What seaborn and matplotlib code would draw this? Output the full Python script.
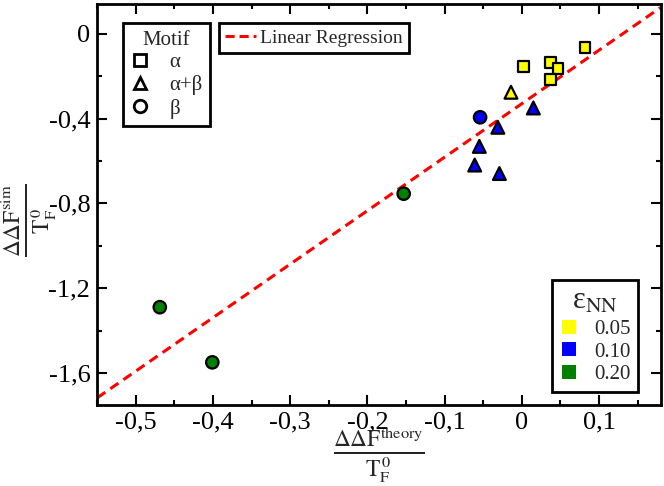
import numpy as np
import pandas as pd
import matplotlib
matplotlib.use("Agg")
import matplotlib.pyplot as plt
from matplotlib.lines import Line2D
from matplotlib.ticker import FixedLocator, FuncFormatter
import seaborn as sns

# ---- data ----
x_theory = [0.002, 0.037, 0.047, 0.037, 0.082,
            -0.014,
            0.015, -0.031, -0.055, -0.061, -0.029,
            -0.054,
            -0.153, -0.469, -0.401]
y_sim = [-0.153, -0.134, -0.165, -0.216, -0.065,
         -0.276,
         -0.350, -0.441, -0.531, -0.619, -0.659,
         -0.394,
         -0.754, -1.289, -1.549]
eps_nn = ["0.05"] * 5 + ["0.05"] + ["0.10"] * 5 + ["0.10"] + ["0.20"] * 3
motif = ["α"] * 5 + ["α+β"] + ["α+β"] * 5 + ["β"] + ["β"] * 3

reg_slope = 2.52
reg_intercept = -0.33

eps_levels = ["0.05", "0.10", "0.20"]
motif_levels = ["α", "α+β", "β"]
x_ticks = [-0.5, -0.4, -0.3, -0.2, -0.1, 0.0, 0.1]
y_ticks = [0.0, -0.4, -0.8, -1.2, -1.6]

# ---- style ----
sns.set_style("ticks")
plt.rcParams["font.family"] = ["Liberation Serif", "DejaVu Serif"]
plt.rcParams["mathtext.fontset"] = "stix"
plt.rcParams["axes.unicode_minus"] = False

palette = {"0.05": "#FFFF00", "0.10": "#0000FF", "0.20": "#008000"}
markers = {"α": "s", "α+β": "^", "β": "o"}
sizes = {"α": 60, "α+β": 85, "β": 80}

df = pd.DataFrame({"x": x_theory, "y": y_sim, "eps": eps_nn, "motif": motif})

fig = plt.figure(figsize=(6.64, 4.86), dpi=100)
ax = fig.add_axes([97.3 / 664, 1 - 405 / 486, (660.7 - 97.3) / 664, (405 - 4) / 486])

xlim = (-0.55, 0.18)
ylim = (-1.75, 0.14)

# regression line
xl = np.array(xlim)
ax.plot(xl, reg_slope * xl + reg_intercept, color="red", lw=2.2,
        dashes=(3.2, 2.0), zorder=1)

sns.scatterplot(data=df, x="x", y="y", hue="eps", style="motif", size="motif",
                palette=palette, markers=markers, sizes=sizes,
                hue_order=eps_levels, style_order=motif_levels, size_order=motif_levels,
                edgecolor="black", linewidth=1.6, legend=False, ax=ax, zorder=3)

ax.set_xlim(*xlim)
ax.set_ylim(*ylim)

fmt = FuncFormatter(lambda v, p: ("%g" % round(v, 2)).replace(".", ","))
ax.xaxis.set_major_locator(FixedLocator(x_ticks))
ax.yaxis.set_major_locator(FixedLocator(y_ticks))
ax.xaxis.set_minor_locator(FixedLocator(np.arange(-0.55, 0.18, 0.05)))
ax.yaxis.set_minor_locator(FixedLocator(np.arange(-1.8, 0.15, 0.2)))
ax.xaxis.set_major_formatter(fmt)
ax.yaxis.set_major_formatter(fmt)
ax.tick_params(which="both", direction="in", top=True, right=True, width=1.5,
               labelsize=19, color="black", labelcolor="black")
ax.tick_params(which="major", length=7.5, pad=5)
ax.tick_params(which="minor", length=3.5)
for s in ax.spines.values():
    s.set_linewidth(2.0)
    s.set_color("black")

ax.set_xlabel(r"$\frac{\Delta\Delta\mathrm{F}^{\mathrm{theory}}}{\mathrm{T}_{\mathrm{F}}^{\,0}}$",
              fontsize=24)
ax.set_ylabel(r"$\frac{\Delta\Delta\mathrm{F}^{\mathrm{sim}}}{\mathrm{T}_{\mathrm{F}}^{\,0}}$",
              fontsize=24)
ax.xaxis.label.set_va("center")
ax.yaxis.label.set_va("center")
ax.xaxis.set_label_coords(0.5, (405 - 455) / 401)
ax.yaxis.set_label_coords((29 - 97.3) / 563.4, (405 - 220) / 401)

# ---- legends ----
def style_frame(leg):
    fr = leg.get_frame()
    fr.set_edgecolor("black")
    fr.set_linewidth(2.0)
    fr.set_facecolor("white")
    fr.set_alpha(1)

motif_handles = [Line2D([], [], ls="none", marker=markers[m], markersize=ms,
                        markerfacecolor="white", markeredgecolor="black", markeredgewidth=2)
                 for m, ms in zip(motif_levels, [8, 9, 9])]
leg1 = ax.legend(motif_handles, motif_levels, title="Motif", loc="upper left",
                 bbox_to_anchor=(122.7 / 664, 1 - 23.3 / 486), bbox_transform=fig.transFigure,
                 borderaxespad=0, fontsize=15, title_fontsize=15, fancybox=False,
                 handlelength=1.0, handletextpad=0.9, labelspacing=0.15,
                 borderpad=0.35, framealpha=1)
style_frame(leg1)
ax.add_artist(leg1)

reg_handle = [Line2D([], [], color="red", lw=2.2, dashes=(3.0, 1.6))]
leg2 = ax.legend(reg_handle, ["Linear Regression"], loc="upper left",
                 bbox_to_anchor=(219.3 / 664, 1 - 23.3 / 486), bbox_transform=fig.transFigure,
                 borderaxespad=0, fontsize=14, fancybox=False, handlelength=1.6,
                 handletextpad=0.2, borderpad=0.3, framealpha=1)
style_frame(leg2)
ax.add_artist(leg2)

eps_handles = [Line2D([], [], ls="none", marker="s", markersize=10,
                      markerfacecolor=palette[e], markeredgecolor=palette[e], markeredgewidth=0)
               for e in eps_levels]
leg3 = ax.legend(eps_handles, eps_levels, title=r"ε$_{\mathrm{NN}}$", loc="upper left",
                 bbox_to_anchor=(551.7 / 664, 1 - 280 / 486), bbox_transform=fig.transFigure,
                 borderaxespad=0, fontsize=15, title_fontsize=22, fancybox=False,
                 handlelength=1.0, handletextpad=0.7, labelspacing=0.15,
                 borderpad=0.35, framealpha=1)
style_frame(leg3)

fig.savefig("out.png", dpi=100, facecolor="white")
